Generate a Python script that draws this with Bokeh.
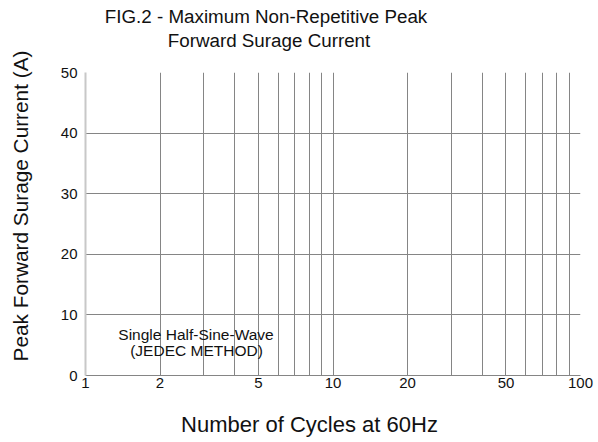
import math
from bokeh.plotting import figure
from bokeh.models import FixedTicker, NumeralTickFormatter, Label, Range1d
from bokeh.embed import file_html
from bokeh.resources import INLINE

# ---- data ----
title_lines = ["FIG.2 - Maximum Non-Repetitive Peak", "Forward Surage Current"]
x_label = "Number of Cycles at 60Hz"
y_label = "Peak Forward Surage Current (A)"
x_ticks = [1, 2, 5, 10, 20, 50, 100]
x_grid = [2, 3, 4, 5, 6, 7, 8, 9, 10, 20, 30, 40, 50, 60, 70, 80, 90, 100]
y_ticks = [0, 10, 20, 30, 40, 50]
y_grid = [10, 20, 30, 40, 50]
note_lines = ["Single Half-Sine-Wave", "(JEDEC METHOD)"]

FONT = "Liberation Sans"
GRID = "#858585"
TXT = "#111111"

W, H = 598, 442
FL, FR, FT, FB = 85, 580, 72, 375   # frame edges in canvas pixels
X0, X1, Y0, Y1 = 1, 100, 0, 50

p = figure(width=W, height=H, x_axis_type="log",
           x_range=Range1d(X0, X1), y_range=Range1d(Y0, Y1),
           output_backend="svg", toolbar_location=None,
           min_border_left=FL, min_border_right=W - FR,
           min_border_top=FT, min_border_bottom=H - FB)
p.title = None
p.outline_line_color = None
p.background_fill_color = "white"
p.border_fill_color = "white"

# axes
p.xaxis.ticker = FixedTicker(ticks=x_ticks)
p.xaxis.formatter = NumeralTickFormatter(format="0")
p.yaxis.ticker = FixedTicker(ticks=y_ticks)
for ax in (p.xaxis, p.yaxis):
    ax.major_tick_out = 0
    ax.major_tick_in = 0
    ax.minor_tick_out = 0
    ax.minor_tick_in = 0
    ax.major_label_text_font = FONT
    ax.major_label_text_font_size = "15px"
    ax.major_label_text_color = TXT
p.xaxis.major_label_standoff = 2
p.yaxis.major_label_standoff = 8
p.xaxis.axis_line_color = GRID
p.yaxis.axis_line_color = "#c8c8c8"
p.yaxis.axis_line_width = 2

# grids
p.xgrid.ticker = FixedTicker(ticks=x_grid)
p.ygrid.ticker = FixedTicker(ticks=y_grid)
p.xgrid.grid_line_color = GRID
p.ygrid.grid_line_color = GRID
p.xgrid.grid_line_width = 1
p.ygrid.grid_line_width = 1

# pixel -> data helpers for placing texts
def xd(px):
    lo, hi = math.log10(X0), math.log10(X1)
    return 10 ** (lo + (px - FL) / (FR - FL) * (hi - lo))

def yd(py):
    return Y0 + (FB - py) / (FB - FT) * (Y1 - Y0)

def text(t, px, py, size, angle=0.0, side=None):
    # px, py: wanted baseline point; shift to compensate the rendered baseline
    fs = float(size.replace("px", ""))
    corr = 0.39 * fs
    if angle:
        px -= corr
    else:
        py -= corr
    lab = Label(x=xd(px), y=yd(py), text=t, text_align="center",
                text_baseline="alphabetic", angle=angle, text_font=FONT,
                text_font_size=size, text_color=TXT)
    if side is None:
        p.add_layout(lab)
    else:
        p.add_layout(lab, side)

# titles
text(title_lines[1], 268.5, 47.3, "18.8px", side="above")
text(title_lines[0], 265.5, 23.3, "18.8px", side="above")
# axis titles
text(x_label, 309, 433, "22px", side="below")
text(y_label, 28, 205.5, "20.8px", angle=math.pi / 2, side="left")
# note
text(note_lines[0], 195.5, 340, "15.5px")
text(note_lines[1], 196, 356, "15.5px")

open("out.html", "w").write(file_html(p, INLINE))
